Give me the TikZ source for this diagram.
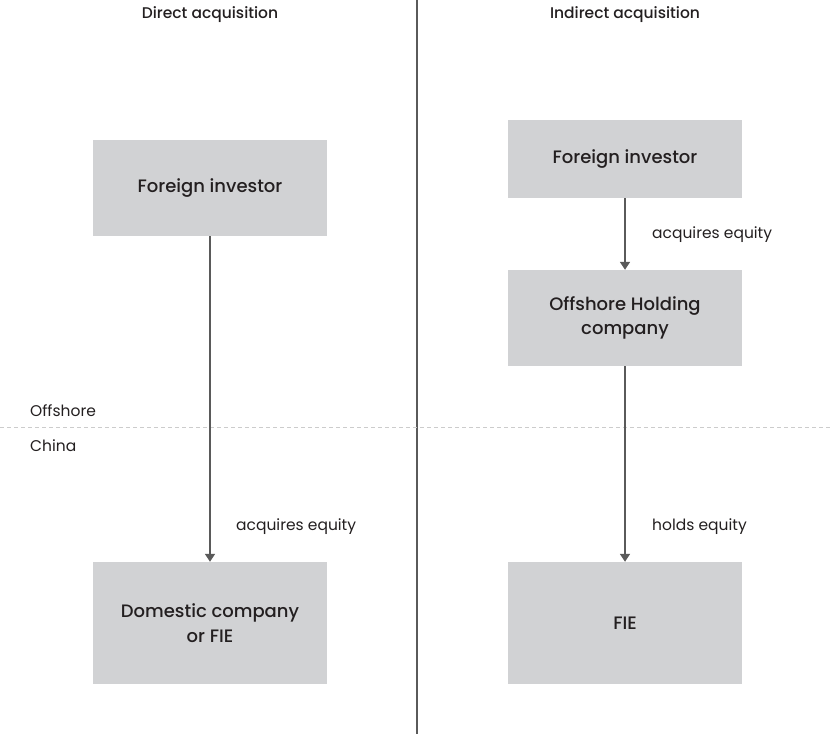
\documentclass[tikz,border=0pt]{standalone}
\usepackage{fontspec}
\setmainfont{Poppins}
\newfontfamily\medfont{Poppins Medium}
\usetikzlibrary{arrows.meta}
\definecolor{boxgray}{HTML}{D1D2D4}
\definecolor{linegray}{HTML}{5A5A5A}
\definecolor{txt}{HTML}{231F20}
\tikzset{
  box/.style={fill=boxgray, draw=none, minimum width=234pt, align=center, font=\medfont\fontsize{18}{24.5}\selectfont, text=txt, inner sep=0pt},
  conn/.style={draw=linegray, line width=1.6pt, -{Triangle[length=8pt,width=10pt]}},
  lbl/.style={anchor=west, font=\fontsize{15.5}{18}\selectfont, text=txt, inner sep=0pt},
  head/.style={font=\medfont\fontsize{15.5}{18}\selectfont, text=txt, inner sep=0pt},
}
\begin{document}
\begin{tikzpicture}[x=1pt,y=-1pt]
\useasboundingbox (0,0) rectangle (833,734);
% divider
\draw[linegray, line width=1.3pt] (417,0) -- (417,734);
\draw[gray!40, line width=0.6pt, dash pattern=on 4pt off 3pt] (0,427) -- (833,427);
\node[lbl] (off) at (30,411) {Offshore};
\node[lbl] (chn) at (30,446) {China};
% headings
\node[head] (h1) at (210,15) {Direct acquisition};
\node[head] (h2) at (625,15) {Indirect acquisition};
% left
\node[box, minimum height=96pt] (lfi) at (210,188) {Foreign investor};
\node[box, minimum height=122pt] (ldc) at (210,623) {Domestic company\\or FIE};
\draw[conn] (lfi.south) -- (ldc.north);
\node[lbl] (l1) at (236,527) {acquires equity};
% right
\node[box, minimum height=78pt] (rfi) at (625,159) {Foreign investor};
\node[box, minimum height=96pt] (rohc) at (625,318) {Offshore Holding\\company};
\node[box, minimum height=122pt] (rfie) at (625,623) {FIE};
\draw[conn] (rfi.south) -- (rohc.north);
\draw[conn] (rohc.south) -- (rfie.north);
\node[lbl] (l2) at (652,235) {acquires equity};
\node[lbl] (l3) at (652,527) {holds equity};
\end{tikzpicture}
\end{document}
